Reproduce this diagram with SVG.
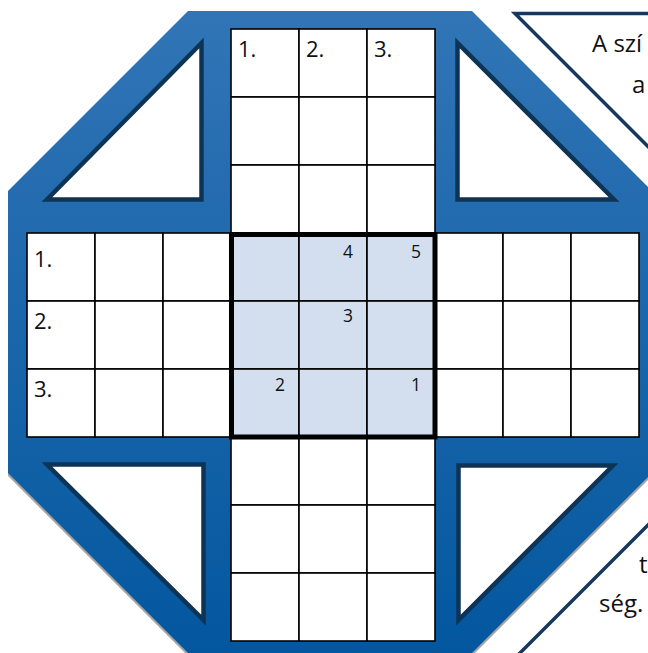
<svg xmlns="http://www.w3.org/2000/svg" width="648" height="653" viewBox="0 0 648 653">
<defs>
<linearGradient id="blue" x1="0" y1="11" x2="0" y2="653" gradientUnits="userSpaceOnUse">
<stop offset="0" stop-color="#3175B6"/>
<stop offset="1" stop-color="#03579F"/>
</linearGradient>
<style>
.tri{fill:#fff;stroke:#0E3455;stroke-width:4.5;stroke-linejoin:miter}
.cell{fill:#fff;stroke:#000;stroke-width:1.6}
.ccell{fill:#D3DFEF;stroke:#000;stroke-width:1.6}
.lbl{font-family:"Open Sans","Liberation Sans",sans-serif;font-size:22px;fill:#111}
.num{font-family:"Open Sans","Liberation Sans",sans-serif;font-size:17.5px;fill:#111;text-anchor:end}
.txt{font-family:"Open Sans","Liberation Sans",sans-serif;font-size:24px;fill:#111}
.box{fill:#fff;stroke:#17375E;stroke-width:3.5}
</style>
</defs>
<rect width="648" height="653" fill="#fff"/>
<g id="octagon">
<polygon points="188,11 472,11 652,191 652,473 472,653 188,653 8,473 8,191" fill="#A6A6A6" transform="translate(0,3)"/>
<polygon points="188,11 472,11 652,191 652,473 472,653 188,653 8,473 8,191" fill="url(#blue)"/>
</g>
<g id="corner-triangles">
<polygon class="tri" points="201.5,43 47,199.5 201.5,199.5"/>
<polygon class="tri" points="457.5,43 457.5,199.5 614,199.5"/>
<polygon class="tri" points="458.5,465.5 613,465.5 458.5,620"/>
<polygon class="tri" points="47,464.5 203.5,464.5 203.5,620"/>
</g>
<g id="grid-top">
<rect class="cell" x="231" y="29" width="68" height="68"/>
<rect class="cell" x="299" y="29" width="68" height="68"/>
<rect class="cell" x="367" y="29" width="68" height="68"/>
<rect class="cell" x="231" y="97" width="68" height="68"/>
<rect class="cell" x="299" y="97" width="68" height="68"/>
<rect class="cell" x="367" y="97" width="68" height="68"/>
<rect class="cell" x="231" y="165" width="68" height="68"/>
<rect class="cell" x="299" y="165" width="68" height="68"/>
<rect class="cell" x="367" y="165" width="68" height="68"/>
<text class="lbl" x="238" y="57">1.</text>
<text class="lbl" x="306" y="57">2.</text>
<text class="lbl" x="374" y="57">3.</text>
</g>
<g id="grid-left">
<rect class="cell" x="27" y="233" width="68" height="68"/>
<rect class="cell" x="95" y="233" width="68" height="68"/>
<rect class="cell" x="163" y="233" width="68" height="68"/>
<rect class="cell" x="27" y="301" width="68" height="68"/>
<rect class="cell" x="95" y="301" width="68" height="68"/>
<rect class="cell" x="163" y="301" width="68" height="68"/>
<rect class="cell" x="27" y="369" width="68" height="68"/>
<rect class="cell" x="95" y="369" width="68" height="68"/>
<rect class="cell" x="163" y="369" width="68" height="68"/>
<text class="lbl" x="34" y="267">1.</text>
<text class="lbl" x="34" y="329">2.</text>
<text class="lbl" x="34" y="397">3.</text>
</g>
<g id="grid-right">
<rect class="cell" x="435" y="233" width="68" height="68"/>
<rect class="cell" x="503" y="233" width="68" height="68"/>
<rect class="cell" x="571" y="233" width="68" height="68"/>
<rect class="cell" x="435" y="301" width="68" height="68"/>
<rect class="cell" x="503" y="301" width="68" height="68"/>
<rect class="cell" x="571" y="301" width="68" height="68"/>
<rect class="cell" x="435" y="369" width="68" height="68"/>
<rect class="cell" x="503" y="369" width="68" height="68"/>
<rect class="cell" x="571" y="369" width="68" height="68"/>
</g>
<g id="grid-bottom">
<rect class="cell" x="231" y="437" width="68" height="68"/>
<rect class="cell" x="299" y="437" width="68" height="68"/>
<rect class="cell" x="367" y="437" width="68" height="68"/>
<rect class="cell" x="231" y="505" width="68" height="68"/>
<rect class="cell" x="299" y="505" width="68" height="68"/>
<rect class="cell" x="367" y="505" width="68" height="68"/>
<rect class="cell" x="231" y="573" width="68" height="68"/>
<rect class="cell" x="299" y="573" width="68" height="68"/>
<rect class="cell" x="367" y="573" width="68" height="68"/>
</g>
<g id="grid-center">
<rect class="ccell" x="231" y="233" width="68" height="68"/>
<rect class="ccell" x="299" y="233" width="68" height="68"/>
<rect class="ccell" x="367" y="233" width="68" height="68"/>
<rect class="ccell" x="231" y="301" width="68" height="68"/>
<rect class="ccell" x="299" y="301" width="68" height="68"/>
<rect class="ccell" x="367" y="301" width="68" height="68"/>
<rect class="ccell" x="231" y="369" width="68" height="68"/>
<rect class="ccell" x="299" y="369" width="68" height="68"/>
<rect class="ccell" x="367" y="369" width="68" height="68"/>
<rect x="231.5" y="234.5" width="203.5" height="202.5" fill="none" stroke="#000" stroke-width="5"/>
<text class="num" x="353" y="258">4</text>
<text class="num" x="421" y="258">5</text>
<text class="num" x="353" y="322">3</text>
<text class="num" x="285" y="391">2</text>
<text class="num" x="421" y="391">1</text>
</g>
<g id="textbox-top">
<polygon class="box" points="515,13.5 720,13.5 720,218.5"/>
<text class="txt" x="592" y="52">A szí</text>
<text class="txt" x="632" y="93">a</text>
</g>
<g id="textbox-bottom">
<polygon class="box" points="720,453 720,720 453,720"/>
<text class="txt" x="639" y="573">t</text>
<text class="txt" x="599" y="612">ség.</text>
</g>
</svg>
